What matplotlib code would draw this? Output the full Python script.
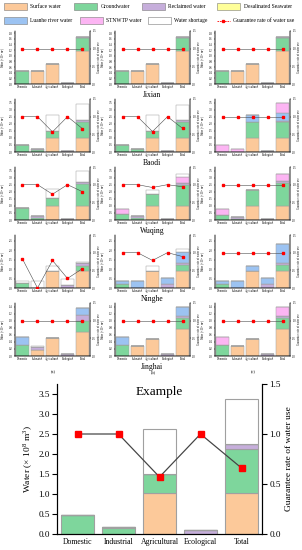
import matplotlib
matplotlib.use("Agg")
import numpy as np
import matplotlib.pyplot as plt
from matplotlib.patches import Rectangle
from matplotlib.lines import Line2D

plt.rcParams["font.family"] = ["Liberation Serif", "DejaVu Serif"]
plt.rcParams["mathtext.fontset"] = "custom"
plt.rcParams["mathtext.rm"] = "Liberation Serif"

categories = ["Domestic", "Industrial", "Agricultural", "Ecological", "Total"]
sources = ["Surface water", "Groundwater", "Reclaimed water", "Desalinated Seawater",
           "Luanhe river water", "STNWTP water", "Water shortage"]
colors = ["#FCC99A", "#7ED69C", "#C6AEDB", "#FFFF99", "#9CC3F2", "#FCB5F3", "#FFFFFF"]
districts = ["Jixian", "Baodi", "Wuqing", "Ninghe", "Jinghai"]
scenarios = ["(a)", "(b)", "(c)"]

# rows follow `sources`, columns follow `categories`
jixian_a = [[0, 0.45, 0.72, 0, 1.17],
            [0.45, 0, 0, 0, 0.45],
            [0, 0, 0, 0.05, 0.06],
            [0, 0, 0, 0, 0], [0, 0, 0, 0, 0], [0, 0, 0, 0, 0], [0, 0, 0, 0, 0]]
jixian_a_rate = [1, 1, 1, 1, 1]
jixian_b = [[0, 0.46, 0.71, 0, 1.17],
            [0.46, 0, 0, 0, 0.46],
            [0, 0, 0, 0.05, 0.05],
            [0, 0, 0, 0, 0], [0, 0, 0, 0, 0], [0, 0, 0, 0, 0], [0, 0, 0, 0, 0]]
jixian_b_rate = [1, 1, 1, 1, 1]
jixian_c = [[0, 0.46, 0.71, 0, 1.17],
            [0.46, 0, 0, 0, 0.46],
            [0, 0, 0, 0.05, 0.05],
            [0, 0, 0, 0, 0], [0, 0, 0, 0, 0], [0, 0, 0, 0, 0], [0, 0, 0, 0, 0]]
jixian_c_rate = [1, 1, 1, 1, 1]

baodi_a = [[0, 0, 1.02, 0, 1.02],
           [0.47, 0.16, 0.48, 0, 1.11],
           [0, 0.02, 0, 0.10, 0.12],
           [0, 0, 0, 0, 0], [0, 0, 0, 0, 0], [0, 0, 0, 0, 0],
           [0, 0, 1.12, 0, 1.13]]
baodi_a_rate = [1, 1, 0.57, 1, 0.66]
baodi_b = [[0, 0, 1.0, 0, 1.0],
           [0.46, 0.18, 0.5, 0, 1.14],
           [0, 0, 0, 0.07, 0.1],
           [0, 0, 0, 0, 0], [0, 0, 0, 0, 0], [0, 0, 0, 0, 0],
           [0.03, 0, 1.14, 0, 1.12]]
baodi_b_rate = [1, 1, 0.58, 1, 0.67]
baodi_c = [[0, 0, 1.0, 0, 1.0],
           [0, 0, 1.1, 0, 1.1],
           [0, 0, 0, 0.1, 0.1],
           [0, 0, 0, 0, 0],
           [0, 0, 0.55, 0, 0.55],
           [0.5, 0.23, 0, 0, 0.73],
           [0, 0, 0, 0, 0]]
baodi_c_rate = [1, 1, 1, 1, 1]

wuqing_a = [[0, 0, 1.0, 0, 1.0],
            [0.82, 0.14, 0.55, 0, 1.52],
            [0, 0.16, 0, 0.07, 0.2],
            [0, 0, 0, 0, 0], [0, 0, 0, 0, 0], [0, 0, 0, 0, 0],
            [0, 0, 0.63, 0, 0.73]]
wuqing_a_rate = [1, 1, 0.73, 1, 0.8]
wuqing_b = [[0, 0, 1.0, 0, 1.0],
            [0.4, 0.13, 0.85, 0, 1.45],
            [0, 0.15, 0, 0.08, 0.17],
            [0, 0, 0, 0, 0], [0, 0, 0, 0, 0],
            [0.4, 0, 0, 0, 0.42],
            [0, 0, 0.25, 0, 0.22]]
wuqing_b_rate = [1, 1, 0.92, 1, 0.94]
wuqing_c = [[0, 0, 1.0, 0, 1.0],
            [0.38, 0.05, 1.15, 0, 1.62],
            [0, 0.17, 0, 0.07, 0.15],
            [0, 0, 0, 0, 0], [0, 0, 0, 0, 0],
            [0.42, 0, 0, 0, 0.5],
            [0, 0, 0, 0, 0]]
wuqing_c_rate = [1, 1, 1, 1, 1]

ninghe_a = [[0, 0, 0.92, 0, 0.92],
            [0.28, 0, 0, 0, 0.25],
            [0, 0, 0, 0.15, 0.15],
            [0, 0, 0, 0, 0], [0, 0, 0, 0, 0], [0, 0, 0, 0, 0],
            [0.09, 0.37, 0.23, 0.33, 0.05]]
ninghe_a_rate = [0.82, 0.0, 0.78, 0.27, 0.55]
ninghe_b = [[0, 0, 0.92, 0, 0.92],
            [0.2, 0, 0, 0, 0.28],
            [0, 0, 0, 0.2, 0.1],
            [0, 0, 0, 0, 0],
            [0.17, 0.37, 0, 0.33, 0.62],
            [0, 0, 0, 0, 0],
            [0, 0, 0.25, 0, 0.15]]
ninghe_b_rate = [1, 1, 0.78, 1, 0.89]
ninghe_c = [[0, 0, 0.92, 0, 0.92],
            [0.2, 0, 0, 0, 0.28],
            [0, 0, 0, 0.2, 0.13],
            [0, 0, 0, 0, 0],
            [0.17, 0.37, 0.25, 0.33, 1.0],
            [0, 0, 0, 0, 0],
            [0, 0, 0, 0, 0]]
ninghe_c_rate = [1, 1, 1, 1, 1]

jinghai_a = [[0, 0.18, 0.5, 0, 0.67],
             [0.31, 0, 0, 0, 0.33],
             [0, 0.08, 0, 0.05, 0.15],
             [0, 0, 0, 0, 0],
             [0.24, 0, 0, 0, 0.2],
             [0, 0, 0, 0, 0],
             [0, 0.02, 0, 0, 0]]
jinghai_a_rate = [1, 1, 1, 1, 1]
jinghai_b = [[0, 0.28, 0.49, 0, 0.77],
             [0.31, 0, 0, 0, 0.31],
             [0, 0, 0, 0.05, 0.06],
             [0, 0, 0, 0, 0],
             [0.23, 0, 0, 0, 0.24],
             [0, 0, 0, 0, 0],
             [0, 0, 0, 0, 0]]
jinghai_b_rate = [1, 1, 1, 1, 1]
jinghai_c = [[0, 0.28, 0.49, 0, 0.77],
             [0.31, 0, 0, 0, 0.31],
             [0, 0, 0, 0.05, 0.06],
             [0, 0, 0, 0, 0], [0, 0, 0, 0, 0],
             [0.23, 0, 0, 0, 0.26],
             [0, 0, 0, 0, 0]]
jinghai_c_rate = [1, 1, 1, 1, 1]

# the enlarged example panel (Baodi, scenario a)
example = baodi_a
example_rate = baodi_a_rate

panels = [
    [(jixian_a, jixian_a_rate), (jixian_b, jixian_b_rate), (jixian_c, jixian_c_rate)],
    [(baodi_a, baodi_a_rate), (baodi_b, baodi_b_rate), (baodi_c, baodi_c_rate)],
    [(wuqing_a, wuqing_a_rate), (wuqing_b, wuqing_b_rate), (wuqing_c, wuqing_c_rate)],
    [(ninghe_a, ninghe_a_rate), (ninghe_b, ninghe_b_rate), (ninghe_c, ninghe_c_rate)],
    [(jinghai_a, jinghai_a_rate), (jinghai_b, jinghai_b_rate), (jinghai_c, jinghai_c_rate)],
]
row_ylim = [1.875, 3.75, 3.75, 2.8, 1.5]
row_ystep = [0.2, 0.5, 0.5, 0.5, 0.2]
row_ymax_tick = [1.8, 3.5, 3.5, 2.5, 1.4]

W, H = 302, 550
EDGE = "#A0A0A0"
YLABEL = "Water (× 10$^{8}$ m$^{3}$)"
RLABEL = "Guarantee rate of water use"


def fig_rect(x0, y_top, w, h):
    return [x0 / W, 1 - (y_top + h) / H, w / W, h / H]


def draw_panel(ax, supply, rate, ylim, ystep, ytop, fs, lfs, lw, ms, xfs, pad,
               width=0.82):
    x = np.arange(len(categories))
    bottom = np.zeros(len(categories))
    for vals, c in zip(supply, colors):
        vals = np.array(vals, dtype=float)
        ax.bar(x, vals, width, bottom=bottom, color=c, edgecolor=EDGE,
               linewidth=lw, zorder=2)
        bottom += vals
    ax.set_xlim(-0.5, 4.5)
    ax.set_ylim(0, ylim)
    ax.set_yticks(np.arange(0, ytop + 1e-9, ystep))
    ax.set_xticks(x)
    ax.set_xticklabels(categories, fontsize=xfs)
    ax.tick_params(axis="y", labelsize=fs, length=fs * 0.5, width=lw, pad=pad)
    ax.tick_params(axis="x", length=0, pad=pad * 1.5)
    ax.spines["top"].set_visible(False)
    for s in ["left", "bottom", "right"]:
        ax.spines[s].set_linewidth(lw)
    ax.set_ylabel(YLABEL, fontsize=lfs, labelpad=pad)

    ax2 = ax.twinx()
    ax2.plot(x, rate, color="#444444", linewidth=lw * 1.1, marker="s",
             markersize=ms, markerfacecolor="red", markeredgecolor="red", zorder=5)
    ax2.set_ylim(0, 1.5)
    ax2.set_yticks([0.0, 0.5, 1.0, 1.5])
    ax2.tick_params(axis="y", labelsize=fs, length=fs * 0.5, width=lw, pad=pad)
    ax2.spines["top"].set_visible(False)
    for s in ["left", "bottom", "right"]:
        ax2.spines[s].set_linewidth(lw)
    ax2.set_ylabel(RLABEL, fontsize=lfs, labelpad=pad * 1.5)
    return ax2


fig = plt.figure(figsize=(W / 100, H / 100), dpi=100)

col_left = [15, 115, 215]
row_top = [31, 99, 167, 235, 303]
pw, ph = 75, 53

for r in range(5):
    for c in range(3):
        supply, rate = panels[r][c]
        ax = fig.add_axes(fig_rect(col_left[c], row_top[r], pw, ph))
        draw_panel(ax, supply, rate, row_ylim[r], row_ystep[r], row_ymax_tick[r],
                   fs=2.1, lfs=2.0, lw=0.35, ms=1.6, xfs=2.1, pad=0.6)
    fig.text(152 / W, 1 - (row_top[r] + ph + 11) / H, districts[r],
             fontsize=5.5, ha="center", va="center")

for c in range(3):
    fig.text((col_left[c] + 38) / W, 1 - 372 / H, scenarios[c],
             fontsize=3.2, ha="center", va="center")

# example panel
axe = fig.add_axes(fig_rect(57, 384, 205, 150))
draw_panel(axe, example, example_rate, 3.75, 0.5, 3.5, fs=6.6, lfs=6.8, lw=0.8,
           ms=4.2, xfs=5.6, pad=2.0)
axe.text(0.5, 0.947, "Example", transform=axe.transAxes, fontsize=9.5,
         ha="center", va="center")

# legend drawn at fixed pixel places
leg_items = [
    (0, 4, 6.5), (1, 74, 6.5), (2, 142, 6.5), (3, 217, 6.5),
    (4, 4, 20.5), (5, 79.5, 20.5), (6, 148, 20.5),
]
for i, x0, yc in leg_items:
    fig.add_artist(Rectangle((x0 / W, 1 - (yc + 3.7) / H), 23 / W, 7.4 / H,
                             transform=fig.transFigure, facecolor=colors[i],
                             edgecolor="#7a7a7a", linewidth=0.4))
    fig.text((x0 + 26.5) / W, 1 - yc / H, sources[i], fontsize=4.0,
             ha="left", va="center")
fig.add_artist(Line2D([217 / W, 230 / W], [1 - 20.5 / H, 1 - 20.5 / H],
                      transform=fig.transFigure, color="red", linewidth=0.6,
                      linestyle=(0, (2, 1))))
fig.add_artist(Line2D([223.5 / W], [1 - 20.5 / H], transform=fig.transFigure,
                      marker="s", markersize=1.4, color="red", linestyle="none"))
fig.text(233 / W, 1 - 20.5 / H, "Guarantee rate of water use", fontsize=4.0,
         ha="left", va="center")

fig.savefig("out.png", dpi=100)
